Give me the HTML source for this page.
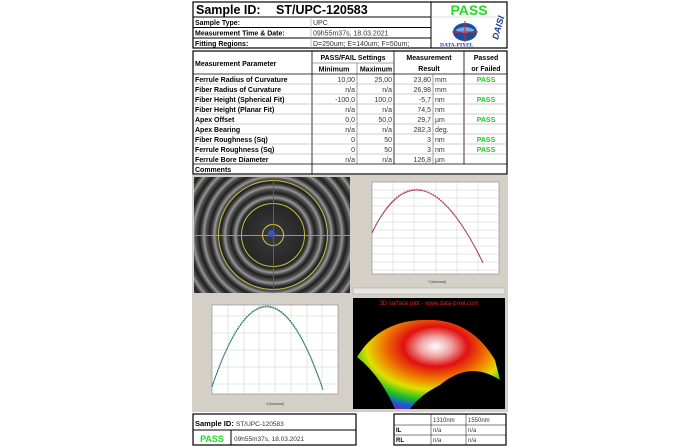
<!DOCTYPE html>
<html><head><meta charset="utf-8"><style>
body{margin:0;width:700px;height:447px;background:#fff;position:relative;overflow:hidden;font-family:"Liberation Sans",sans-serif}
.a{position:absolute}
</style></head><body>
<svg class="a" style="left:0;top:0" width="700" height="447" font-family="Liberation Sans, sans-serif">
<g stroke="#000" fill="none">
<rect x="193" y="2" width="314" height="46" stroke-width="1.2"/>
<line x1="431" y1="2" x2="431" y2="48"/>
<line x1="193" y1="17" x2="431" y2="17"/>
<line x1="193" y1="27.5" x2="431" y2="27.5"/>
<line x1="193" y1="38" x2="431" y2="38"/>
<line x1="311" y1="17" x2="311" y2="48" stroke="#999" stroke-width="0.6"/>
<line x1="431" y1="17" x2="507" y2="17" stroke="#bbb" stroke-width="0.6"/>
</g>
<text x="196" y="14" font-size="12.5" font-weight="bold">Sample ID:</text>
<text x="276" y="14" font-size="12.5" font-weight="bold">ST/UPC-120583</text>
<text x="469" y="15" font-size="14" font-weight="bold" fill="#22dd22" text-anchor="middle">PASS</text>
<g font-size="7" font-weight="bold"><text x="195" y="25">Sample Type:</text><text x="195" y="35.5">Measurement Time &amp; Date:</text><text x="195" y="46">Fitting Regions:</text></g>
<g font-size="7" fill="#333"><text x="313" y="25">UPC</text><text x="313" y="35.5">09h55m37s,  18.03.2021</text><text x="313" y="46">D=250um;  E=140um;  F=50um;</text></g>
<ellipse cx="465" cy="32" rx="12" ry="9" fill="#1a4d9e"/>
<path d="M455 30 q10 -6 20 0 q-10 6 -20 0z" fill="#7aa8e0"/>
<line x1="465" y1="21" x2="465" y2="42" stroke="#d22" stroke-width="1"/>
<line x1="452" y1="32" x2="478" y2="32" stroke="#d22" stroke-width="1"/>
<text x="440" y="46.5" font-size="5.5" font-weight="bold" fill="#1a3d8e" font-family="Liberation Serif,serif">DATA-PIXEL</text>
<text x="498" y="40" font-size="9" font-style="italic" font-weight="bold" fill="#1a3d8e" transform="rotate(-75 498 40)">DAISI</text>
<g stroke="#000" fill="none" stroke-width="0.8">
<rect x="193" y="51" width="314" height="123" stroke-width="1.2"/>
<line x1="312" y1="51" x2="312" y2="174"/>
<line x1="394" y1="51" x2="394" y2="164"/>
<line x1="464" y1="51" x2="464" y2="164"/>
<line x1="357" y1="63" x2="357" y2="164" stroke="#888"/>
<line x1="433" y1="74" x2="433" y2="164" stroke="#888"/>
<line x1="312" y1="63" x2="394" y2="63" stroke="#888"/>
<line x1="193" y1="74" x2="507" y2="74"/>
<line x1="193" y1="164" x2="507" y2="164"/>
</g>
<g stroke="#999" stroke-width="0.5">
<line x1="193" y1="84" x2="507" y2="84"/><line x1="193" y1="94" x2="507" y2="94"/><line x1="193" y1="104" x2="507" y2="104"/><line x1="193" y1="114" x2="507" y2="114"/><line x1="193" y1="124" x2="507" y2="124"/><line x1="193" y1="134" x2="507" y2="134"/><line x1="193" y1="144" x2="507" y2="144"/><line x1="193" y1="154" x2="507" y2="154"/>
</g>
<g font-size="7" font-weight="bold">
<text x="195" y="66">Measurement Parameter</text>
<text x="353" y="60" text-anchor="middle">PASS/FAIL Settings</text>
<text x="334" y="71.5" text-anchor="middle">Minimum</text><text x="376" y="71.5" text-anchor="middle">Maximum</text>
<text x="429" y="60" text-anchor="middle">Measurement</text><text x="429" y="71" text-anchor="middle">Result</text>
<text x="486" y="60" text-anchor="middle">Passed</text><text x="486" y="71" text-anchor="middle">or Failed</text>
<text x="195" y="82">Ferrule Radius of Curvature</text>
<text x="195" y="92">Fiber Radius of Curvature</text>
<text x="195" y="102">Fiber Height (Spherical Fit)</text>
<text x="195" y="112">Fiber Height (Planar Fit)</text>
<text x="195" y="122">Apex Offset</text>
<text x="195" y="132">Apex Bearing</text>
<text x="195" y="142">Fiber Roughness (Sq)</text>
<text x="195" y="152">Ferrule Roughness (Sq)</text>
<text x="195" y="162">Ferrule Bore Diameter</text>
<text x="195" y="172">Comments</text>
</g>
<g font-size="7" fill="#333" text-anchor="end">
<text x="355" y="82">10,00</text><text x="392" y="82">25,00</text><text x="431" y="82">23,80</text>
<text x="355" y="92">n/a</text><text x="392" y="92">n/a</text><text x="431" y="92">26,98</text>
<text x="355" y="102">-100,0</text><text x="392" y="102">100,0</text><text x="431" y="102">-5,7</text>
<text x="355" y="112">n/a</text><text x="392" y="112">n/a</text><text x="431" y="112">74,5</text>
<text x="355" y="122">0,0</text><text x="392" y="122">50,0</text><text x="431" y="122">29,7</text>
<text x="355" y="132">n/a</text><text x="392" y="132">n/a</text><text x="431" y="132">282,3</text>
<text x="355" y="142">0</text><text x="392" y="142">50</text><text x="431" y="142">3</text>
<text x="355" y="152">0</text><text x="392" y="152">50</text><text x="431" y="152">3</text>
<text x="355" y="162">n/a</text><text x="392" y="162">n/a</text><text x="431" y="162">126,8</text>
</g>
<g font-size="7" fill="#333"><text x="435" y="82">mm</text><text x="435" y="92">mm</text><text x="435" y="102">nm</text><text x="435" y="112">nm</text><text x="435" y="122">µm</text><text x="435" y="132">deg.</text><text x="435" y="142">nm</text><text x="435" y="152">nm</text><text x="435" y="162">µm</text></g>
<g font-size="7" font-weight="bold" fill="#22cc22" text-anchor="middle"><text x="486" y="82">PASS</text><text x="486" y="102">PASS</text><text x="486" y="122">PASS</text><text x="486" y="142">PASS</text><text x="486" y="152">PASS</text></g>

<rect x="192" y="175" width="316" height="237" fill="#d4d0c8"/>
<rect x="372" y="182" width="127" height="92" fill="#fff"/>
<g stroke="#ccc" stroke-width="0.5">
<line x1="393" y1="182" x2="393" y2="274"/><line x1="414" y1="182" x2="414" y2="274"/><line x1="436" y1="182" x2="436" y2="274"/><line x1="457" y1="182" x2="457" y2="274"/><line x1="478" y1="182" x2="478" y2="274"/>
<line x1="372" y1="190" x2="499" y2="190"/><line x1="372" y1="198" x2="499" y2="198"/><line x1="372" y1="206" x2="499" y2="206"/><line x1="372" y1="214" x2="499" y2="214"/><line x1="372" y1="222" x2="499" y2="222"/><line x1="372" y1="230" x2="499" y2="230"/><line x1="372" y1="238" x2="499" y2="238"/><line x1="372" y1="246" x2="499" y2="246"/><line x1="372" y1="254" x2="499" y2="254"/><line x1="372" y1="262" x2="499" y2="262"/><line x1="372" y1="270" x2="499" y2="270"/>
</g>
<rect x="372" y="182" width="127" height="92" fill="none" stroke="#888" stroke-width="0.6"/>
<path d="M372 233 Q420 134 483 263" stroke="#b03050" stroke-width="0.9" fill="none"/>
<path d="M372 232 Q420 133 483 262" stroke="#555" stroke-width="0.6" stroke-dasharray="1 1.5" fill="none"/>
<text x="437" y="283" font-size="3.5" text-anchor="middle" fill="#333">Y [microns]</text>
<rect x="353" y="288" width="152" height="6" fill="#e8e6e0" stroke="#999" stroke-width="0.4"/>
<rect x="212" y="305" width="126" height="89" fill="#fff"/>
<g stroke="#ccc" stroke-width="0.5">
<line x1="228" y1="305" x2="228" y2="394"/><line x1="244" y1="305" x2="244" y2="394"/><line x1="259" y1="305" x2="259" y2="394"/><line x1="275" y1="305" x2="275" y2="394"/><line x1="291" y1="305" x2="291" y2="394"/><line x1="307" y1="305" x2="307" y2="394"/><line x1="322" y1="305" x2="322" y2="394"/>
<line x1="212" y1="316" x2="338" y2="316"/><line x1="212" y1="333" x2="338" y2="333"/><line x1="212" y1="350" x2="338" y2="350"/><line x1="212" y1="367" x2="338" y2="367"/><line x1="212" y1="384" x2="338" y2="384"/>
</g>
<rect x="212" y="305" width="126" height="89" fill="none" stroke="#888" stroke-width="0.6"/>
<path d="M212 387 Q267 225 323 390" stroke="#2a8a8a" stroke-width="0.9" fill="none"/>
<path d="M212 386 Q267 224 323 389" stroke="#333" stroke-width="0.6" stroke-dasharray="1 1.5" fill="none"/>
<text x="275" y="405" font-size="3.5" text-anchor="middle" fill="#333">X [microns]</text>
<defs>
<radialGradient id="dome" cx="0.55" cy="0.3" r="0.75">
<stop offset="0" stop-color="#fff"/><stop offset="0.15" stop-color="#f0a0a0"/><stop offset="0.3" stop-color="#e01010"/><stop offset="0.5" stop-color="#f08000"/><stop offset="0.65" stop-color="#e0e000"/><stop offset="0.8" stop-color="#20c020"/><stop offset="0.92" stop-color="#1060d0"/><stop offset="1" stop-color="#8020b0"/>
</radialGradient>
</defs>
<rect x="353" y="298" width="152" height="111" fill="#000"/>
<text x="429" y="305" font-size="6" fill="#e02020" text-anchor="middle">3D surface plot - www.data-pixel.com</text>
<path d="M357 357 Q380 320 425 320 Q470 318 495 360 L500 380 Q470 360 440 385 Q420 395 410 409 L395 409 Q380 375 357 357Z" fill="url(#dome)"/>
<g stroke="#000" fill="none">
<rect x="193" y="414" width="163" height="31" stroke-width="1.2"/>
<line x1="193" y1="430" x2="356" y2="430"/><line x1="231" y1="430" x2="231" y2="445"/>
<rect x="394" y="414" width="112" height="31" stroke-width="1.2"/>
<line x1="394" y1="425" x2="506" y2="425" stroke-width="0.5"/><line x1="394" y1="435" x2="506" y2="435" stroke-width="0.5"/>
<line x1="431" y1="414" x2="431" y2="445" stroke-width="0.5"/><line x1="466" y1="414" x2="466" y2="445" stroke-width="0.5"/>
</g>
<text x="195" y="426" font-size="7.5" font-weight="bold">Sample ID:</text>
<text x="236" y="426" font-size="6.5" fill="#333">ST/UPC-120583</text>
<text x="212" y="442" font-size="9" font-weight="bold" fill="#22dd22" text-anchor="middle">PASS</text>
<text x="234" y="441" font-size="6.5" fill="#333">09h55m37s,  18.03.2021</text>
<g font-size="6" fill="#333"><text x="433" y="422">1310nm</text><text x="468" y="422">1550nm</text><text x="433" y="432">n/a</text><text x="468" y="432">n/a</text><text x="433" y="442">n/a</text><text x="468" y="442">n/a</text></g>
<g font-size="6" font-weight="bold"><text x="396" y="432">IL</text><text x="396" y="442">RL</text></g>
</svg>
<div class="a" style="left:194px;top:177px;width:156px;height:116px;overflow:hidden;background:repeating-radial-gradient(circle at 79px 58px,#1e1e1e 0,#555 4px,#999 6px,#555 8px,#1e1e1e 10.5px)">
<div class="a" style="left:44px;top:23px;width:70px;height:70px;border-radius:50%;background:radial-gradient(circle,#3a3a3a,#262626 65%,transparent 75%)"></div>
<div class="a" style="left:24px;top:3px;width:110px;height:110px;border-radius:50%;border:1px solid #c8c040;box-sizing:border-box"></div>
<div class="a" style="left:47px;top:26px;width:64px;height:64px;border-radius:50%;border:1px solid #c8c040;box-sizing:border-box"></div>
<div class="a" style="left:68px;top:47px;width:22px;height:22px;border-radius:50%;border:1px solid #e0d050;box-sizing:border-box"></div>
<div class="a" style="left:79px;top:0;width:1px;height:116px;background:#d03030"></div>
<div class="a" style="left:0;top:58px;width:156px;height:1px;background:#40d040"></div>
<div class="a" style="left:74px;top:53px;width:7px;height:7px;border-radius:50%;background:#4050c0"></div>
</div>
</body></html>
